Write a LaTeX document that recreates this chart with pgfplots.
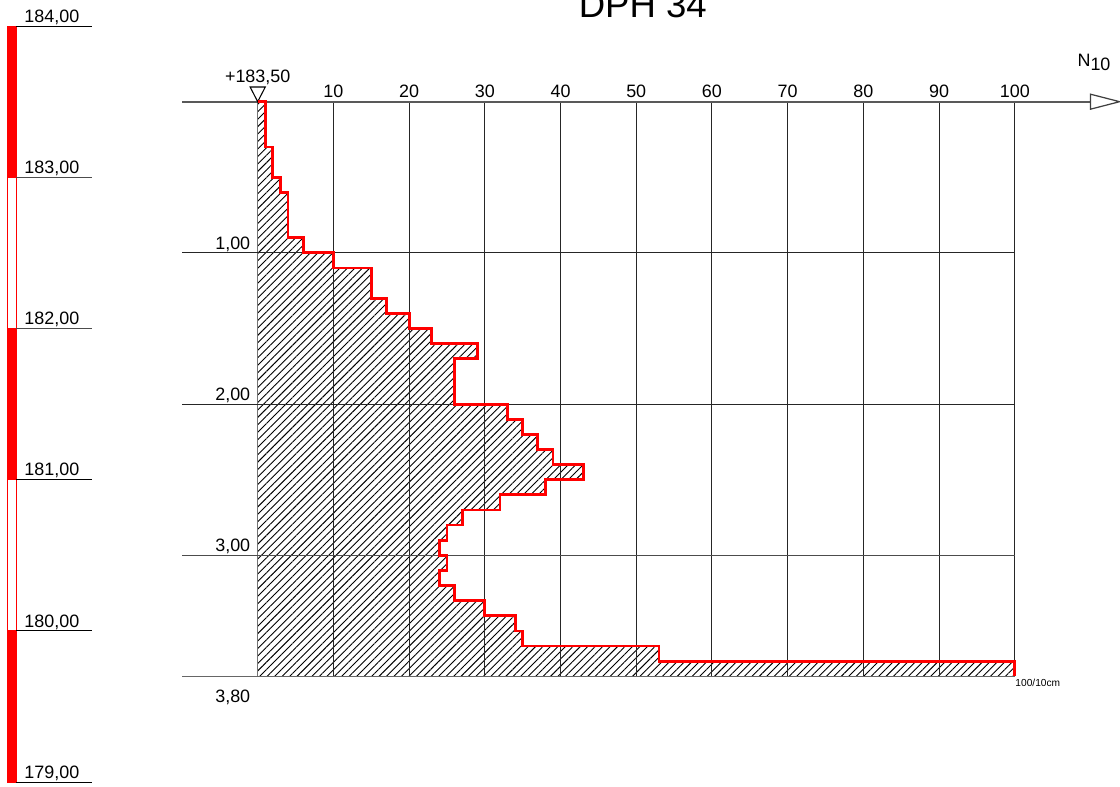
\documentclass[border=0pt]{standalone}
\usepackage{fontspec}
\setmainfont{Liberation Sans}
\usepackage{pgfplots}
\pgfplotsset{compat=1.18}
\usetikzlibrary{patterns.meta}
\newcommand{\lbl}{\fontsize{5.1}{6}\selectfont}
\begin{document}
\begin{tikzpicture}
\begin{axis}[scale only axis, width=11.2cm, height=7.87cm,
  xmin=-34.04, xmax=113.9, ymin=-0.6726, ymax=4.532, y dir=reverse,
  hide axis, clip=false]
% hatched area
\addplot[draw=none, pattern={Lines[angle=45,distance=1.5pt,line width=0.26pt]}, pattern color=black] coordinates {
(0,0)(1,0)(1,0.3)(2,0.3)(2,0.5)(3,0.5)(3,0.6)(4,0.6)(4,0.9)(6,0.9)(6,1.0)(10,1.0)(10,1.1)(15,1.1)(15,1.3)(17,1.3)(17,1.4)(20,1.4)(20,1.5)(23,1.5)(23,1.6)(29,1.6)(29,1.7)(26,1.7)(26,2.0)(33,2.0)(33,2.1)(35,2.1)(35,2.2)(37,2.2)(37,2.3)(39,2.3)(39,2.4)(43,2.4)(43,2.5)(38,2.5)(38,2.6)(32,2.6)(32,2.7)(27,2.7)(27,2.8)(25,2.8)(25,2.9)(24,2.9)(24,3.0)(25,3.0)(25,3.1)(24,3.1)(24,3.2)(26,3.2)(26,3.3)(30,3.3)(30,3.4)(34,3.4)(34,3.5)(35,3.5)(35,3.6)(53,3.6)(53,3.7)(100,3.7)(100,3.8)(0,3.8)} -- cycle;
% vertical grid lines
\addplot[black!85, line width=0.28pt] coordinates {(10,0)(10,3.8)};
\addplot[black!85, line width=0.28pt] coordinates {(20,0)(20,3.8)};
\addplot[black!85, line width=0.28pt] coordinates {(30,0)(30,3.8)};
\addplot[black!85, line width=0.28pt] coordinates {(40,0)(40,3.8)};
\addplot[black!85, line width=0.28pt] coordinates {(50,0)(50,3.8)};
\addplot[black!85, line width=0.28pt] coordinates {(60,0)(60,3.8)};
\addplot[black!85, line width=0.28pt] coordinates {(70,0)(70,3.8)};
\addplot[black!85, line width=0.28pt] coordinates {(80,0)(80,3.8)};
\addplot[black!85, line width=0.28pt] coordinates {(90,0)(90,3.8)};
\addplot[black!85, line width=0.28pt] coordinates {(100,0)(100,3.8)};
\addplot[black!55, line width=0.35pt] coordinates {(0,0)(0,3.8)};
% horizontal grid lines
\addplot[black!85, line width=0.28pt] coordinates {(-10,1)(100,1)};
\addplot[black!85, line width=0.28pt] coordinates {(-10,2)(100,2)};
\addplot[black!70, line width=0.32pt] coordinates {(-10,3)(100,3)};
\addplot[black!60, line width=0.4pt] coordinates {(-10,3.8)(100,3.8)};
% N10 axis with arrow
\addplot[black!65, line width=0.5pt] coordinates {(-10,0)(110,0)};
\addplot[black!75, line width=0.35pt, fill=white] coordinates {(110,-0.0496)(113.85,0)(110,0.0496)} -- cycle;
% top marker
\addplot[black, line width=0.3pt, fill=white] coordinates {(-1,-0.097)(1,-0.097)(0,0)} -- cycle;
% profile
\addplot[red, line width=0.8pt, line join=miter] coordinates {
(0,0)(1,0)(1,0.3)(2,0.3)(2,0.5)(3,0.5)(3,0.6)(4,0.6)(4,0.9)(6,0.9)(6,1.0)(10,1.0)(10,1.1)(15,1.1)(15,1.3)(17,1.3)(17,1.4)(20,1.4)(20,1.5)(23,1.5)(23,1.6)(29,1.6)(29,1.7)(26,1.7)(26,2.0)(33,2.0)(33,2.1)(35,2.1)(35,2.2)(37,2.2)(37,2.3)(39,2.3)(39,2.4)(43,2.4)(43,2.5)(38,2.5)(38,2.6)(32,2.6)(32,2.7)(27,2.7)(27,2.8)(25,2.8)(25,2.9)(24,2.9)(24,3.0)(25,3.0)(25,3.1)(24,3.1)(24,3.2)(26,3.2)(26,3.3)(30,3.3)(30,3.4)(34,3.4)(34,3.5)(35,3.5)(35,3.6)(53,3.6)(53,3.7)(100,3.7)(100,3.8)};
% left elevation bar
\addplot[fill=red, draw=red, line width=0.3pt] coordinates {(-33,-0.5)(-31.9,-0.5)(-31.9,0.5)(-33,0.5)} -- cycle;
\addplot[fill=white, draw=red, line width=0.3pt] coordinates {(-33,0.5)(-31.9,0.5)(-31.9,1.5)(-33,1.5)} -- cycle;
\addplot[fill=red, draw=red, line width=0.3pt] coordinates {(-33,1.5)(-31.9,1.5)(-31.9,2.5)(-33,2.5)} -- cycle;
\addplot[fill=white, draw=red, line width=0.3pt] coordinates {(-33,2.5)(-31.9,2.5)(-31.9,3.5)(-33,3.5)} -- cycle;
\addplot[fill=red, draw=red, line width=0.3pt] coordinates {(-33,3.5)(-31.9,3.5)(-31.9,4.5)(-33,4.5)} -- cycle;
% elevation ticks
\addplot[black, line width=0.3pt] coordinates {(-31.9,-0.5)(-21.9,-0.5)};
\addplot[black!70, line width=0.3pt] coordinates {(-31.9,0.5)(-21.9,0.5)};
\addplot[black!70, line width=0.3pt] coordinates {(-31.9,1.5)(-21.9,1.5)};
\addplot[black, line width=0.3pt] coordinates {(-31.9,2.5)(-21.9,2.5)};
\addplot[black, line width=0.3pt] coordinates {(-31.9,3.5)(-21.9,3.5)};
\addplot[black, line width=0.3pt] coordinates {(-31.9,4.5)(-21.9,4.5)};
% elevation labels
\node[anchor=base east, inner sep=0pt, font=\lbl] at (axis cs:-23.47,-0.526) {184,00};
\node[anchor=base east, inner sep=0pt, font=\lbl] at (axis cs:-23.47,0.474) {183,00};
\node[anchor=base east, inner sep=0pt, font=\lbl] at (axis cs:-23.47,1.474) {182,00};
\node[anchor=base east, inner sep=0pt, font=\lbl] at (axis cs:-23.47,2.474) {181,00};
\node[anchor=base east, inner sep=0pt, font=\lbl] at (axis cs:-23.47,3.474) {180,00};
\node[anchor=base east, inner sep=0pt, font=\lbl] at (axis cs:-23.47,4.474) {179,00};
% depth labels
\node[anchor=base east, inner sep=0pt, font=\lbl] at (axis cs:-0.9,0.976) {1,00};
\node[anchor=base east, inner sep=0pt, font=\lbl] at (axis cs:-0.9,1.976) {2,00};
\node[anchor=base east, inner sep=0pt, font=\lbl] at (axis cs:-0.9,2.976) {3,00};
\node[anchor=base east, inner sep=0pt, font=\lbl] at (axis cs:-0.9,3.97) {3,80};
% N10 tick labels
\node[anchor=base, inner sep=0pt, font=\lbl] at (axis cs:10,-0.025) {10};
\node[anchor=base, inner sep=0pt, font=\lbl] at (axis cs:20,-0.025) {20};
\node[anchor=base, inner sep=0pt, font=\lbl] at (axis cs:30,-0.025) {30};
\node[anchor=base, inner sep=0pt, font=\lbl] at (axis cs:40,-0.025) {40};
\node[anchor=base, inner sep=0pt, font=\lbl] at (axis cs:50,-0.025) {50};
\node[anchor=base, inner sep=0pt, font=\lbl] at (axis cs:60,-0.025) {60};
\node[anchor=base, inner sep=0pt, font=\lbl] at (axis cs:70,-0.025) {70};
\node[anchor=base, inner sep=0pt, font=\lbl] at (axis cs:80,-0.025) {80};
\node[anchor=base, inner sep=0pt, font=\lbl] at (axis cs:90,-0.025) {90};
\node[anchor=base, inner sep=0pt, font=\lbl] at (axis cs:100,-0.025) {100};
\node[anchor=base, inner sep=0pt, font=\lbl] at (axis cs:0,-0.125) {+183,50};
\node[anchor=base west, inner sep=0pt, font=\lbl] at (axis cs:108.2,-0.23) {N\raisebox{-0.4ex}{10}};
\node[anchor=base west, inner sep=0pt, font=\fontsize{2.9}{3.5}\selectfont] at (axis cs:100,3.87) {100/10cm};
% title (cut off at the top edge, as in the reference)
\node[anchor=base, inner sep=0pt, font=\fontsize{10.4}{12}\selectfont] at (axis cs:50.86,-0.554) {DPH 34};
\end{axis}
\pgfresetboundingbox
\path[use as bounding box] (current axis.south west) rectangle (current axis.north east);
\end{tikzpicture}
\end{document}
